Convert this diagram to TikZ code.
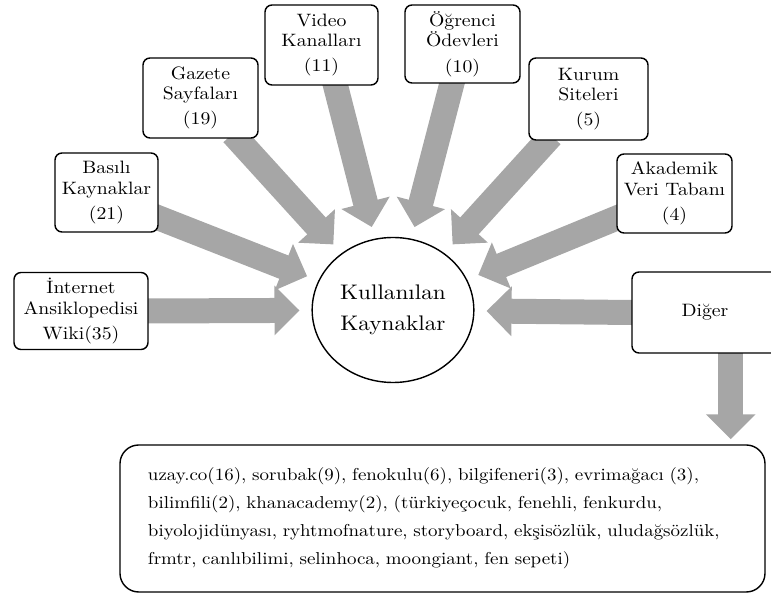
\documentclass[tikz,border=0pt]{standalone}
\usepackage{fontspec}
\setmainfont{lmroman10-regular.otf}[FakeStretch=1.1]
\usetikzlibrary{arrows.meta, shapes.geometric, backgrounds}
\definecolor{arrowgray}{RGB}{166,166,166}
\tikzset{every picture/.style={line width=0.75pt}}

\begin{document}
\begin{tikzpicture}[x=0.03cm,y=-0.03cm,
        src/.style={draw, line width=1.2pt, rounded corners=6pt, fill=white, align=center,
            inner sep=2pt, font=\fontsize{15.3}{17.5}\selectfont},
        flow/.style={draw=arrowgray, line width=0.75cm, shorten <=-0.2cm, shorten >=0.36cm,
            -{Triangle[length=0.75cm,width=1.45cm]}}]
        \clip (0,0) rectangle (771,598);
        \node[draw, line width=1.2pt, ellipse, minimum width=4.85cm, minimum height=4.35cm,
            align=center, font=\fontsize{18}{26.5}\selectfont] (kul) at (393,310) {Kullanılan\\Kaynaklar};
        \node[src, minimum width=4.02cm, minimum height=2.31cm] (inet) at (81,311) {İnternet\\Ansiklopedisi\\[4pt]Wiki(35)};
        \node[src, minimum width=3.09cm, minimum height=2.37cm] (basili) at (106.5,192.5) {Basılı\\Kaynaklar\\[4pt](21)};
        \node[src, minimum width=3.45cm, minimum height=2.4cm] (gazete) at (200.5,98) {Gazete\\Sayfaları\\[4pt](19)};
        \node[src, minimum width=3.39cm, minimum height=2.4cm] (video) at (321.5,45) {Video\\Kanalları\\[4pt](11)};
        \node[src, minimum width=3.45cm, minimum height=2.34cm] (odev) at (462.5,44) {Öğrenci\\Ödevleri\\[4pt](10)};
        \node[src, minimum width=3.57cm, minimum height=2.46cm] (kurum) at (588.5,99) {Kurum\\Siteleri\\[4pt](5)};
        \node[src, minimum width=3.45cm, minimum height=2.37cm] (akademik) at (674.5,193.5) {Akademik\\Veri Tabanı\\[4pt](4)};
        \node[src, minimum width=4.38cm, minimum height=2.43cm] (diger) at (705,312.5) {Diğer};
        \node[draw, line width=1.2pt, rounded corners=16pt, fill=white, align=left,
            minimum width=19.35cm, minimum height=4.41cm, text width=17.67cm,
            inner xsep=0.84cm, font=\fontsize{14.7}{24}\selectfont] (list) at (442.5,518.5)
            {uzay.co(16), sorubak(9), fenokulu(6), bilgifeneri(3), evrimağacı (3),\\
             bilimfili(2), khanacademy(2), (türkiyeçocuk, fenehli, fenkurdu,\\
             biyolojidünyası, ryhtmofnature, storyboard, ekşisözlük, uludağsözlük,\\
             frmtr, canlıbilimi, selinhoca, moongiant, fen sepeti)};
        \begin{scope}[on background layer]
        \draw
            (inet.east) edge[flow] (kul)
            (basili.-26) edge[flow] (kul)
            (gazete.-48) edge[flow] (kul)
            (video.-71) edge[flow] (kul)
            (odev.-105) edge[flow] (kul)
            (kurum.-135) edge[flow] (kul)
            (akademik.-157) edge[flow] (kul)
            (diger.west) edge[flow] (kul)
            (diger.-58) edge[flow, shorten >=0.15cm] (diger.-58 |- list.north)
            ;
        \end{scope}
    \end{tikzpicture}
\end{document}
